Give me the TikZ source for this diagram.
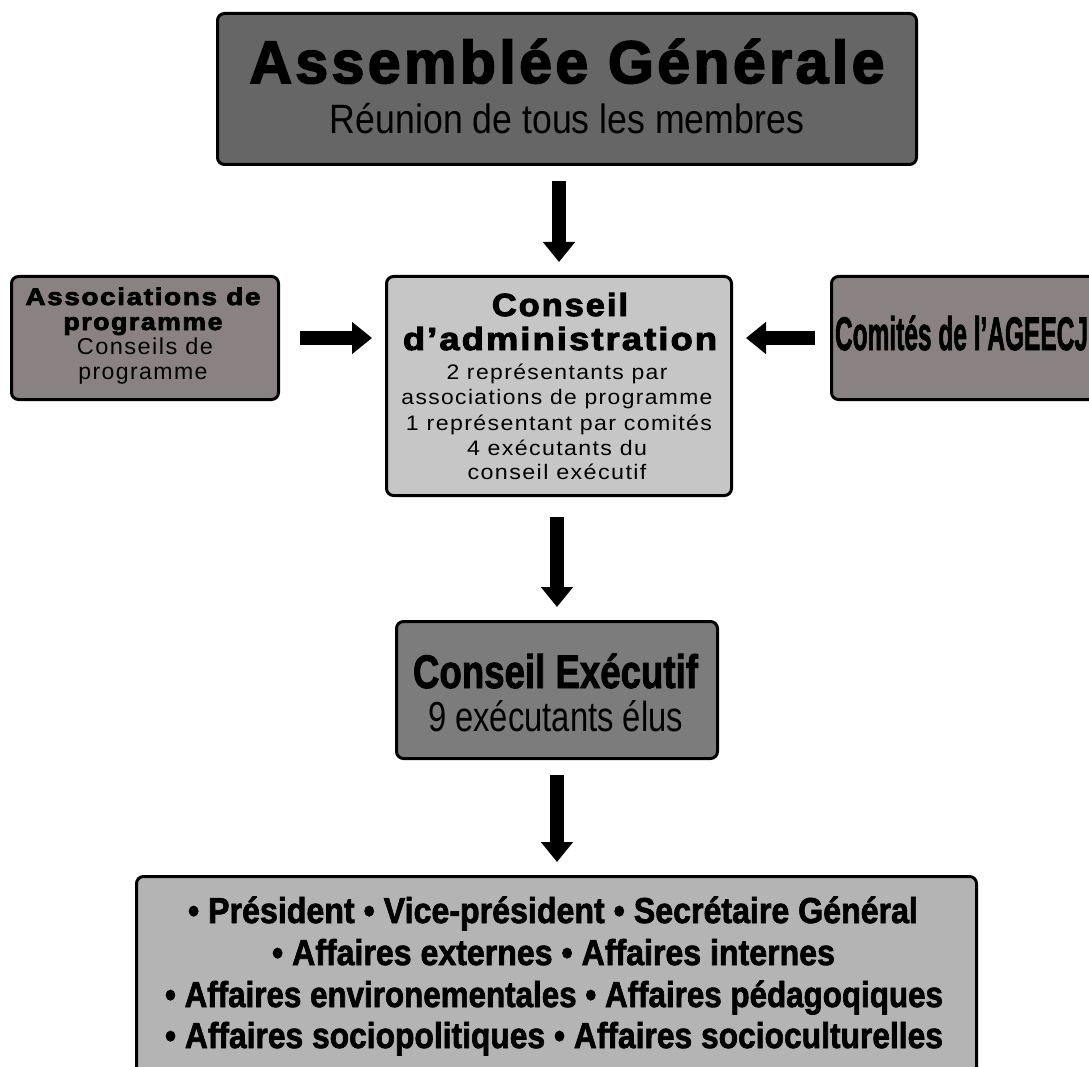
\documentclass[tikz,border=0pt]{standalone}
\usepackage{fontspec}
\setmainfont{Liberation Sans}
\newfontfamily\blackwide{Liberation Sans}[LetterSpace=6,FakeBold=3]
\newfontfamily\regwide{Liberation Sans}[LetterSpace=6]
\newfontfamily\boldheavy{Liberation Sans}[FakeBold=2]
\usetikzlibrary{arrows.meta}
\newcommand{\fitw}[2]{\resizebox{#1}{\height}{#2}}
\definecolor{agfill}{HTML}{666666}
\definecolor{sidefill}{HTML}{8A8282}
\definecolor{cafill}{HTML}{C6C6C6}
\definecolor{cefill}{HTML}{7C7C7C}
\definecolor{exfill}{HTML}{B4B4B4}
\tikzset{
  box/.style={draw=black, line width=3pt, rounded corners=7pt, inner sep=0pt, anchor=north west},
  txt/.style={anchor=base, inner sep=0pt, text=black},
  blockarrow/.style={line width=14pt, -{Triangle[width=31pt,length=20pt]}},
}
\begin{document}
\begin{tikzpicture}[x=1pt,y=-1pt]
\path[use as bounding box] (0,0) rectangle (1089,1067);
\clip (0,0) rectangle (1089,1067);

% boxes
\node[box, fill=agfill, minimum width=699pt, minimum height=151pt] (ag) at (216,12) {};
\node[box, fill=sidefill, minimum width=267pt, minimum height=123pt] (ap) at (10,275) {};
\node[box, fill=cafill, minimum width=345pt, minimum height=219pt] (ca) at (385,275) {};
\node[box, fill=sidefill, minimum width=290pt, minimum height=123pt] (cj) at (830,275) {};
\node[box, fill=cefill, minimum width=321pt, minimum height=137pt] (ce) at (395,620) {};
\node[box, fill=exfill, minimum width=840pt, minimum height=220pt] (ex) at (135,875) {};

% texts: Assemblée Générale
\node[txt] (agT) at (567,83) {\fitw{635pt}{\fontsize{60pt}{60pt}\blackwide\bfseries Assemblée Générale}};
\node[txt] (agS) at (567,134) {\fitw{474pt}{\fontsize{41pt}{41pt}\selectfont Réunion de tous les membres}};

% Associations de programme
\node[txt] (apT1) at (143,305) {\fitw{235pt}{\fontsize{24pt}{24pt}\blackwide\bfseries Associations de}};
\node[txt] (apT2) at (143,330) {\fitw{159pt}{\fontsize{24pt}{24pt}\blackwide\bfseries programme}};
\node[txt] (apS1) at (145,354) {\fitw{136pt}{\fontsize{23pt}{23pt}\regwide Conseils de}};
\node[txt] (apS2) at (143,379) {\fitw{129pt}{\fontsize{23pt}{23pt}\regwide programme}};

% Conseil d'administration
\node[txt] (caT1) at (560,316) {\fitw{136pt}{\fontsize{32pt}{32pt}\blackwide\bfseries Conseil}};
\node[txt] (caT2) at (560,350) {\fitw{314pt}{\fontsize{32pt}{32pt}\blackwide\bfseries d’administration}};
\node[txt] (caS1) at (557,379) {\fitw{221pt}{\fontsize{21pt}{21pt}\regwide 2 représentants par}};
\node[txt] (caS2) at (557,404) {\fitw{311pt}{\fontsize{21pt}{21pt}\regwide associations de programme}};
\node[txt] (caS3) at (559,430) {\fitw{306pt}{\fontsize{21pt}{21pt}\regwide 1 représentant par comités}};
\node[txt] (caS4) at (557,455) {\fitw{180pt}{\fontsize{21pt}{21pt}\regwide 4 exécutants du}};
\node[txt] (caS5) at (557,479) {\fitw{179pt}{\fontsize{21pt}{21pt}\regwide conseil exécutif}};

% Comités
\node[txt] (cjT) at (961.5,350) {\fitw{253pt}{\fontsize{47pt}{47pt}\boldheavy\bfseries Comités de l’AGEECJ}};

% Conseil Exécutif
\node[txt] (ceT) at (555.5,688) {\fitw{285pt}{\fontsize{47pt}{47pt}\boldheavy\bfseries Conseil Exécutif}};
\node[txt] (ceS) at (555.5,731) {\fitw{255pt}{\fontsize{42pt}{42pt}\selectfont 9 exécutants élus}};

% Exécutants
\node[txt] (ex1) at (553,923) {\fitw{730pt}{\fontsize{36pt}{36pt}\boldheavy\bfseries • Président • Vice-président • Secrétaire Général}};
\node[txt] (ex2) at (553.5,965) {\fitw{563pt}{\fontsize{36pt}{36pt}\boldheavy\bfseries • Affaires externes • Affaires internes}};
\node[txt] (ex3) at (554,1007) {\fitw{778pt}{\fontsize{36pt}{36pt}\boldheavy\bfseries • Affaires environementales • Affaires pédagoqiques}};
\node[txt] (ex4) at (554,1048) {\fitw{778pt}{\fontsize{36pt}{36pt}\boldheavy\bfseries • Affaires sociopolitiques • Affaires socioculturelles}};

% arrows
\draw[blockarrow, shorten <=15pt, shorten >=13pt] (ag.south -| ca.north) -- (ca.north);
\draw[blockarrow, shorten <=20pt, shorten >=13pt] (ap.east) -- (ap.east -| ca.west);
\draw[blockarrow, shorten <=15pt, shorten >=13pt] (cj.west) -- (cj.west -| ca.east);
\draw[blockarrow, shorten <=20pt, shorten >=13pt] (ca.south -| ce.north) -- (ce.north);
\draw[blockarrow, shorten <=15pt, shorten >=13pt] (ce.south) -- (ce.south |- ex.north);
\end{tikzpicture}
\end{document}
